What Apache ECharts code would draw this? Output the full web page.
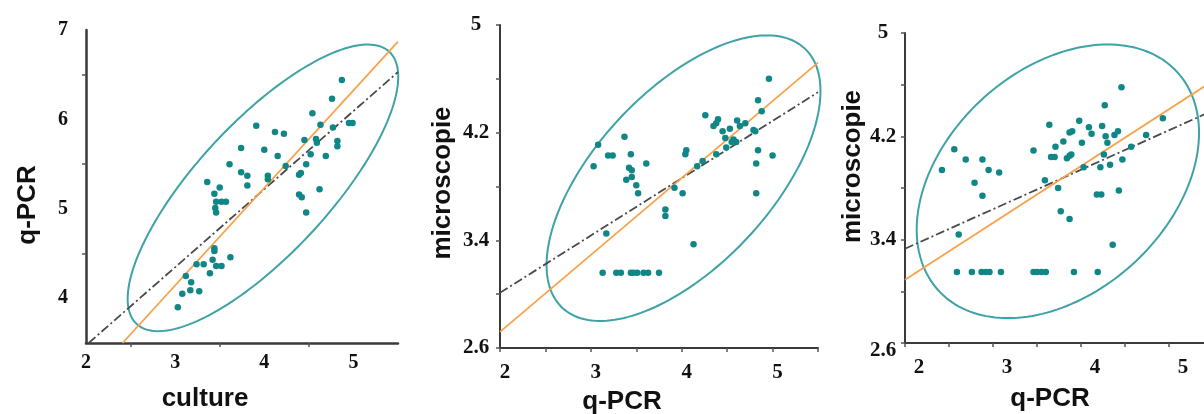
<!DOCTYPE html>
<html>
<head>
<meta charset="utf-8">
<script src="https://cdn.jsdelivr.net/npm/echarts@6/dist/echarts.min.js"></script>
<style>
  html, body { margin: 0; padding: 0; background: #ffffff; }
  #chart { width: 1204px; height: 414px; }
</style>
</head>
<body>
<div id="chart"></div>
<script>
// culture (x) vs q-PCR (y)
const cultureVsQpcr = [
  [4.87,6.44],[4.76,6.23],[4.54,6.07],[4.63,5.94],[4.77,5.91],[4.95,5.96],[4.99,5.96],
  [3.91,5.93],[4.12,5.86],[4.22,5.84],[4.45,5.77],[4.58,5.78],[4.59,5.74],[4.82,5.76],
  [4.82,5.70],[3.74,5.68],[4.00,5.66],[4.15,5.59],[4.52,5.61],[4.69,5.59],[3.61,5.50],
  [4.24,5.48],[4.47,5.50],[3.74,5.41],[3.81,5.37],[4.04,5.37],[4.04,5.33],[4.41,5.40],
  [4.39,5.38],[3.81,5.26],[3.36,5.30],[3.50,5.24],[3.44,5.17],[4.39,5.16],[4.42,5.13],
  [4.62,5.22],[3.46,5.08],[3.52,5.08],[3.57,5.08],[3.45,5.01],[3.46,4.96],[4.47,4.96],
  [3.44,4.56],[3.44,4.53],[3.62,4.46],[3.24,4.38],[3.32,4.38],[3.42,4.43],[3.46,4.36],
  [3.52,4.36],[3.39,4.28],[3.12,4.25],[3.18,4.18],[3.08,4.05],[3.17,4.09],[3.27,4.08],
  [3.03,3.90]
];

// q-PCR (x) vs microscopie (y), first group
const qpcrVsMicroA = [
  [4.96,4.60],[4.84,4.44],[4.88,4.36],[4.26,4.33],[4.40,4.30],[4.38,4.27],[4.35,4.25],
  [4.61,4.29],[4.70,4.27],[4.53,4.23],[4.45,4.21],[4.64,4.25],[4.79,4.22],[4.81,4.21],
  [4.48,4.16],[4.57,4.15],[4.60,4.13],[4.55,4.13],[4.49,4.09],[4.84,4.07],[5.00,4.03],
  [4.82,3.97],[4.05,4.07],[4.04,4.04],[4.38,4.04],[4.23,3.99],[4.17,3.95],[3.37,4.17],
  [3.08,4.11],[3.19,4.03],[3.24,4.03],[3.44,4.04],[3.61,3.97],[3.03,3.95],[3.42,3.94],
  [3.45,3.92],[3.39,3.85],[3.45,3.87],[3.50,3.81],[3.52,3.75],[3.92,3.79],[4.01,3.75],
  [4.82,3.75],[3.82,3.63],[3.82,3.58],[3.17,3.45],[4.13,3.37],
  [3.13,3.16],[3.28,3.16],[3.33,3.16],[3.44,3.16],[3.47,3.16],[3.51,3.16],[3.58,3.16],
  [3.63,3.16],[3.75,3.16]
];

// q-PCR (x) vs microscopie (y), second group
const qpcrVsMicroB = [
  [4.46,4.58],[4.27,4.44],[4.93,4.34],[3.64,4.29],[3.98,4.32],[4.09,4.27],[4.24,4.28],
  [3.90,4.24],[3.87,4.23],[4.12,4.22],[4.28,4.20],[4.42,4.24],[4.38,4.21],[4.74,4.21],
  [3.80,4.16],[4.01,4.15],[4.30,4.15],[3.71,4.12],[4.57,4.12],[3.46,4.09],[3.66,4.04],
  [3.70,4.04],[3.84,4.03],[3.87,4.05],[3.89,4.06],[4.26,4.06],[4.47,4.02],[2.56,4.10],
  [2.42,3.94],[2.69,4.02],[2.88,4.02],[2.95,3.94],[3.07,3.92],[2.79,3.84],[2.88,3.74],
  [3.59,3.86],[3.74,3.80],[4.03,3.96],[4.22,3.96],[4.33,3.98],[4.43,3.78],[4.18,3.75],
  [4.23,3.75],[3.77,3.62],[3.87,3.56],[2.61,3.44],[4.36,3.36],
  [2.59,3.15],[2.76,3.15],[2.87,3.15],[2.92,3.15],[2.96,3.15],[3.09,3.15],[3.46,3.15],
  [3.50,3.15],[3.55,3.15],[3.60,3.15],[3.92,3.15],[4.19,3.15]
];

// fitted lines, given by their two end points
const agreementLine1 = [[2.41, 3.50], [5.50, 6.87]];
const regressionLine1 = [[2.03, 3.50], [5.50, 6.53]];
const agreementLine2 = [[2.00, 2.72], [5.50, 4.72]];
const regressionLine2 = [[2.00, 3.01], [5.50, 4.50]];
const agreementLine3 = [[2.00, 3.09], [5.50, 4.63]];
const regressionLine3 = [[2.00, 3.33], [5.50, 4.40]];

// dispersion ellipses: centre and the two semi-axis vectors, in axis units
const ellipse1 = { center: [3.985, 5.235], major: [1.418, 1.521], minor: [-0.541, 0.505] };
const ellipse2 = { center: [4.020, 3.862], major: [1.333, 0.964], minor: [-0.704, 0.443] };
const ellipse3 = { center: [3.737, 3.852], major: [1.305, 0.881], minor: [-0.933, 0.588] };

// axis ticks and labels
const xLabels = [2, 3, 4, 5];
const xTicks1 = [2.5, 3.5, 4.5];
const yLabels1 = [4, 5, 6, 7];
const yTicks1 = [4.5, 5.5, 6.5];
const xTicks23 = [2, 2.5, 3, 3.5, 4, 4.5, 5, 5.5];
const yLabels23 = [2.6, 3.4, 4.2, 5.0];
const yTicks23 = [2.6, 3.0, 3.4, 3.8, 4.2, 4.6, 5.0];

const DOT = '#108686';
const RING = '#3ea2a6';
const ORANGE = '#f8a24a';
const DASH = '#4a4a4a';

function labelFont(size) {
  return { fontFamily: 'Liberation Serif', fontWeight: 'bold', fontSize: size, color: '#111' };
}
const nameFont = { fontFamily: 'Liberation Sans', fontWeight: 'bold', fontSize: 26, color: '#111' };

function xAxisFor(grid, o) {
  return {
    type: 'value', gridIndex: grid, min: 2, max: 5.5,
    axisLine: { show: true, onZero: false, lineStyle: { color: '#3a3a3a', width: o.lineWidth } },
    axisTick: { show: true, customValues: o.ticks, length: 4, lineStyle: { color: '#555', width: 1.5 } },
    axisLabel: Object.assign({ customValues: xLabels, margin: o.margin, padding: o.labelPad },
                             labelFont(o.fontSize)),
    splitLine: { show: false },
    name: o.name, nameLocation: 'middle', nameGap: o.nameGap,
    nameTextStyle: Object.assign({ padding: o.namePad }, nameFont)
  };
}

function yAxisFor(grid, o) {
  return {
    type: 'value', gridIndex: grid, min: o.min, max: o.max,
    axisLine: { show: true, onZero: false, lineStyle: { color: '#3a3a3a', width: o.lineWidth } },
    axisTick: { show: true, customValues: o.ticks, length: 4, lineStyle: { color: '#555', width: 1.5 } },
    axisLabel: Object.assign({
      customValues: o.labels, margin: o.margin, align: 'center',
      formatter: o.formatter, rich: o.rich
    }, labelFont(o.fontSize)),
    splitLine: { show: false },
    name: o.name, nameLocation: 'middle', nameGap: o.nameGap,
    nameTextStyle: Object.assign({ padding: o.namePad }, nameFont)
  };
}

function ellipseSeries(shape, idx) {
  return {
    type: 'custom', xAxisIndex: idx, yAxisIndex: idx, silent: true, clip: false, z: 1,
    data: [shape.center],
    renderItem: function (params, api) {
      const pts = [];
      const n = 180;
      for (let k = 0; k < n; k++) {
        const t = (2 * Math.PI * k) / n;
        const c = Math.cos(t), s = Math.sin(t);
        pts.push(api.coord([
          shape.center[0] + c * shape.major[0] + s * shape.minor[0],
          shape.center[1] + c * shape.major[1] + s * shape.minor[1]
        ]));
      }
      return {
        type: 'polygon',
        shape: { points: pts },
        style: { fill: 'none', stroke: RING, lineWidth: 2 }
      };
    }
  };
}

function lineSeries(points, idx, color, dashed) {
  return {
    type: 'line', xAxisIndex: idx, yAxisIndex: idx, data: points,
    showSymbol: false, silent: true, z: dashed ? 2 : 3,
    lineStyle: { color: color, width: 1.8, type: dashed ? [9, 3, 2, 3] : 'solid' }
  };
}

function dotSeries(points, idx) {
  return {
    type: 'scatter', xAxisIndex: idx, yAxisIndex: idx, data: points,
    symbol: 'circle', symbolSize: 6.5, z: 4, silent: true,
    itemStyle: { color: DOT, opacity: 1 }
  };
}

const chart = echarts.init(document.getElementById('chart'), null, { renderer: 'canvas' });

chart.setOption({
  animation: false,
  backgroundColor: '#ffffff',
  grid: [
    { left: 86, top: 30, width: 312, height: 313, outerBoundsMode: 'none' },
    { left: 500, top: 25, width: 318, height: 323, outerBoundsMode: 'none' },
    { left: 905, top: 33, width: 308, height: 310, outerBoundsMode: 'none' }
  ],
  xAxis: [
    xAxisFor(0, { lineWidth: 2.5, ticks: xTicks1, margin: 10, labelPad: [0, 0, 0, 0], fontSize: 20,
                  name: 'culture', nameGap: 43, namePad: [0, 74, 0, 0] }),
    xAxisFor(1, { lineWidth: 2, ticks: xTicks23, margin: 14, labelPad: [0, 0, 0, 10], fontSize: 21,
                  name: 'q-PCR', nameGap: 41, namePad: [0, 74, 0, 0] }),
    xAxisFor(2, { lineWidth: 2, ticks: xTicks23, margin: 14, labelPad: [0, 0, 0, 28], fontSize: 21,
                  name: 'q-PCR', nameGap: 43, namePad: [0, 18, 0, 0] })
  ],
  yAxis: [
    yAxisFor(0, { min: 3.5, max: 7, lineWidth: 2.5, ticks: yTicks1, labels: yLabels1, margin: 23,
                  fontSize: 20, name: 'q-PCR', nameGap: 45, namePad: [0, 37, 0, 0] }),
    yAxisFor(1, { min: 2.6, max: 5, lineWidth: 2, ticks: yTicks23, labels: yLabels23, margin: 24,
                  fontSize: 21, name: 'microscopie', nameGap: 44, namePad: [0, 0, 0, 7] }),
    yAxisFor(2, { min: 2.6, max: 5, lineWidth: 2, ticks: yTicks23, labels: yLabels23, margin: 22,
                  fontSize: 21, name: 'microscopie', nameGap: 38, namePad: [0, 0, 0, 43],
                  formatter: function (v) { return Math.abs(v - 2.6) < 1e-6 ? '{low|2.6}' : String(v); },
                  rich: { low: { fontFamily: 'Liberation Serif', fontWeight: 'bold', fontSize: 21,
                                 color: '#111', padding: [16, 0, 0, 0] } } })
  ],
  series: [
    ellipseSeries(ellipse1, 0),
    lineSeries(regressionLine1, 0, DASH, true),
    lineSeries(agreementLine1, 0, ORANGE, false),
    dotSeries(cultureVsQpcr, 0),

    ellipseSeries(ellipse2, 1),
    lineSeries(regressionLine2, 1, DASH, true),
    lineSeries(agreementLine2, 1, ORANGE, false),
    dotSeries(qpcrVsMicroA, 1),

    ellipseSeries(ellipse3, 2),
    lineSeries(regressionLine3, 2, DASH, true),
    lineSeries(agreementLine3, 2, ORANGE, false),
    dotSeries(qpcrVsMicroB, 2)
  ]
});
</script>
</body>
</html>
